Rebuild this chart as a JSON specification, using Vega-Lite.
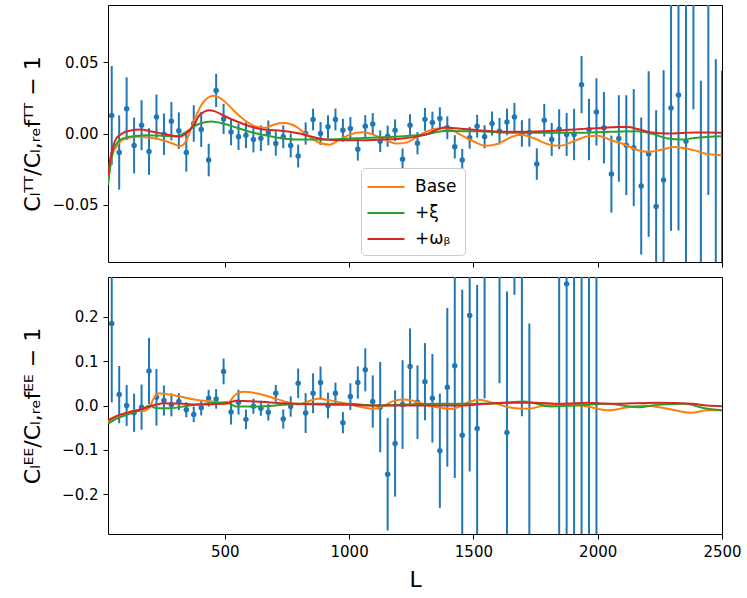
{
  "$schema": "https://vega.github.io/schema/vega-lite/v6.json",
  "padding": {"left": 20, "top": 4, "right": 5, "bottom": 0},
  "spacing": 8,
  "datasets": {
    "tt": [
      {"L": 45, "v": 0.0126, "e": 0.0346}, {"L": 75, "v": -0.0133, "e": 0.026}, {"L": 105, "v": 0.0174, "e": 0.022},
      {"L": 135, "v": -0.0084, "e": 0.0195}, {"L": 165, "v": 0.0058, "e": 0.0175}, {"L": 195, "v": -0.0126, "e": 0.0163},
      {"L": 225, "v": 0.0116, "e": 0.0157}, {"L": 255, "v": -0.0005, "e": 0.0145}, {"L": 285, "v": 0.0086, "e": 0.0134},
      {"L": 315, "v": 0.002, "e": 0.0128}, {"L": 345, "v": -0.0133, "e": 0.0134}, {"L": 375, "v": 0.007, "e": 0.0128},
      {"L": 405, "v": 0.0028, "e": 0.0122}, {"L": 435, "v": -0.0186, "e": 0.0114}, {"L": 465, "v": 0.0302, "e": 0.0116},
      {"L": 495, "v": 0.0102, "e": 0.0105}, {"L": 525, "v": 0.001, "e": 0.0093}, {"L": 555, "v": -0.0023, "e": 0.0093},
      {"L": 585, "v": -0.0012, "e": 0.009}, {"L": 615, "v": -0.0042, "e": 0.009}, {"L": 645, "v": -0.0033, "e": 0.009},
      {"L": 675, "v": 0.0004, "e": 0.0087}, {"L": 705, "v": -0.007, "e": 0.0085}, {"L": 735, "v": -0.0023, "e": 0.008},
      {"L": 765, "v": -0.0084, "e": 0.0084}, {"L": 795, "v": -0.0158, "e": 0.008}, {"L": 825, "v": 0.0, "e": 0.0078},
      {"L": 855, "v": 0.0098, "e": 0.0076}, {"L": 885, "v": 0.0, "e": 0.008}, {"L": 915, "v": 0.0047, "e": 0.008},
      {"L": 945, "v": 0.0098, "e": 0.0077}, {"L": 975, "v": 0.0023, "e": 0.008}, {"L": 1005, "v": 0.0035, "e": 0.008},
      {"L": 1035, "v": -0.011, "e": 0.008}, {"L": 1065, "v": 0.0051, "e": 0.0078}, {"L": 1095, "v": 0.0067, "e": 0.0076},
      {"L": 1125, "v": -0.0054, "e": 0.0076}, {"L": 1155, "v": -0.0019, "e": 0.0074}, {"L": 1185, "v": 0.0023, "e": 0.0076},
      {"L": 1215, "v": -0.0181, "e": 0.0076}, {"L": 1245, "v": 0.0058, "e": 0.0077}, {"L": 1275, "v": -0.0068, "e": 0.0078},
      {"L": 1305, "v": 0.0099, "e": 0.008}, {"L": 1335, "v": 0.0077, "e": 0.0076}, {"L": 1365, "v": 0.0105, "e": 0.0079},
      {"L": 1395, "v": 0.004, "e": 0.008}, {"L": 1425, "v": -0.0093, "e": 0.0081}, {"L": 1455, "v": -0.0186, "e": 0.0078},
      {"L": 1485, "v": -0.003, "e": 0.0076}, {"L": 1515, "v": 0.0051, "e": 0.008}, {"L": 1545, "v": -0.0023, "e": 0.0081},
      {"L": 1575, "v": 0.007, "e": 0.0084}, {"L": 1605, "v": 0.0016, "e": 0.0093}, {"L": 1635, "v": 0.0081, "e": 0.0093},
      {"L": 1665, "v": 0.0116, "e": 0.0098}, {"L": 1695, "v": 0.0, "e": 0.0093}, {"L": 1725, "v": 0.0007, "e": 0.0099},
      {"L": 1755, "v": -0.0214, "e": 0.011}, {"L": 1785, "v": 0.0093, "e": 0.0114}, {"L": 1815, "v": -0.0042, "e": 0.0116},
      {"L": 1845, "v": 0.003, "e": 0.014}, {"L": 1875, "v": -0.0007, "e": 0.015}, {"L": 1905, "v": -0.0007, "e": 0.018},
      {"L": 1935, "v": 0.0342, "e": 0.02}, {"L": 1965, "v": 0.0028, "e": 0.0215}, {"L": 1995, "v": 0.0151, "e": 0.0236},
      {"L": 2025, "v": 0.004, "e": 0.025}, {"L": 2055, "v": -0.0284, "e": 0.027}, {"L": 2085, "v": -0.0035, "e": 0.0303},
      {"L": 2115, "v": -0.0082, "e": 0.035}, {"L": 2145, "v": -0.0099, "e": 0.041}, {"L": 2175, "v": -0.0368, "e": 0.048},
      {"L": 2205, "v": -0.0144, "e": 0.058}, {"L": 2235, "v": -0.0512, "e": 0.0675}, {"L": 2265, "v": -0.0326, "e": 0.077},
      {"L": 2295, "v": 0.0179, "e": 0.086}, {"L": 2325, "v": 0.027, "e": 0.095}, {"L": 2355, "v": -0.0054, "e": 0.106},
      {"L": 2385, "v": 0.135, "e": 0.118}, {"L": 2415, "v": -0.1, "e": 0.137}, {"L": 2445, "v": 0.102, "e": 0.145},
      {"L": 2475, "v": -0.108, "e": 0.16}, {"L": 2500, "v": -0.132, "e": 0.176}
    ],
    "ee": [
      {"L": 45, "v": 0.185, "e": 0.178}, {"L": 75, "v": 0.0246, "e": 0.0645}, {"L": 105, "v": 0.0, "e": 0.046},
      {"L": 135, "v": -0.0164, "e": 0.043}, {"L": 165, "v": -0.0037, "e": 0.051}, {"L": 195, "v": 0.078, "e": 0.0746},
      {"L": 225, "v": 0.0186, "e": 0.064}, {"L": 255, "v": 0.0112, "e": 0.034}, {"L": 285, "v": 0.0015, "e": 0.026},
      {"L": 315, "v": 0.0089, "e": 0.019}, {"L": 345, "v": -0.0097, "e": 0.017}, {"L": 375, "v": -0.0201, "e": 0.0175},
      {"L": 405, "v": -0.0052, "e": 0.017}, {"L": 435, "v": 0.0164, "e": 0.019}, {"L": 465, "v": 0.0149, "e": 0.022},
      {"L": 495, "v": 0.0768, "e": 0.029}, {"L": 525, "v": -0.0149, "e": 0.028}, {"L": 555, "v": 0.0075, "e": 0.028},
      {"L": 585, "v": -0.0313, "e": 0.022}, {"L": 615, "v": -0.0015, "e": 0.017}, {"L": 645, "v": -0.006, "e": 0.017},
      {"L": 675, "v": -0.015, "e": 0.019}, {"L": 705, "v": 0.0276, "e": 0.019}, {"L": 735, "v": -0.0305, "e": 0.0216},
      {"L": 765, "v": -0.0022, "e": 0.023}, {"L": 795, "v": 0.05, "e": 0.0335}, {"L": 825, "v": -0.0171, "e": 0.045},
      {"L": 855, "v": 0.0276, "e": 0.045}, {"L": 885, "v": 0.052, "e": 0.036}, {"L": 915, "v": 0.0, "e": 0.029},
      {"L": 945, "v": 0.0276, "e": 0.024}, {"L": 975, "v": -0.0388, "e": 0.024}, {"L": 1005, "v": 0.0201, "e": 0.03},
      {"L": 1035, "v": 0.052, "e": 0.0365}, {"L": 1065, "v": 0.0805, "e": 0.0485}, {"L": 1095, "v": 0.009, "e": 0.059},
      {"L": 1125, "v": -0.0037, "e": 0.102}, {"L": 1155, "v": -0.155, "e": 0.127}, {"L": 1185, "v": -0.0857, "e": 0.12},
      {"L": 1215, "v": 0.0022, "e": 0.1}, {"L": 1245, "v": 0.088, "e": 0.086}, {"L": 1275, "v": 0.0075, "e": 0.083},
      {"L": 1305, "v": 0.0537, "e": 0.087}, {"L": 1335, "v": 0.0164, "e": 0.1}, {"L": 1365, "v": -0.102, "e": 0.129},
      {"L": 1395, "v": 0.041, "e": 0.179}, {"L": 1425, "v": 0.0895, "e": 0.253}, {"L": 1455, "v": -0.067, "e": 0.328},
      {"L": 1485, "v": 0.203, "e": 0.352}, {"L": 1515, "v": -0.052, "e": 0.324}, {"L": 1545, "v": 0.376, "e": 0.36},
      {"L": 1605, "v": 0.43, "e": 0.38}, {"L": 1635, "v": -0.061, "e": 0.318}, {"L": 1665, "v": 0.65, "e": 0.4},
      {"L": 1695, "v": 0.4, "e": 0.424}, {"L": 1725, "v": -0.32, "e": 0.505}, {"L": 1845, "v": -0.35, "e": 0.7},
      {"L": 1875, "v": 0.2745, "e": 0.6}, {"L": 1905, "v": 0.4, "e": 0.75}, {"L": 1935, "v": -0.45, "e": 0.8},
      {"L": 1965, "v": 0.5, "e": 0.85}, {"L": 1995, "v": -0.4, "e": 0.9}
    ],
    "ttm": [
      {"m": "Base", "L": 30, "v": -0.034}, {"m": "Base", "L": 40, "v": -0.022}, {"m": "Base", "L": 50, "v": -0.014},
      {"m": "Base", "L": 65, "v": -0.009}, {"m": "Base", "L": 80, "v": -0.0055}, {"m": "Base", "L": 100, "v": -0.0035},
      {"m": "Base", "L": 120, "v": -0.0027}, {"m": "Base", "L": 150, "v": -0.0023}, {"m": "Base", "L": 200, "v": -0.003},
      {"m": "Base", "L": 250, "v": -0.0047}, {"m": "Base", "L": 290, "v": -0.007}, {"m": "Base", "L": 318, "v": -0.0089},
      {"m": "Base", "L": 335, "v": -0.0075}, {"m": "Base", "L": 350, "v": -0.003}, {"m": "Base", "L": 372, "v": 0.007},
      {"m": "Base", "L": 405, "v": 0.0198}, {"m": "Base", "L": 438, "v": 0.0256}, {"m": "Base", "L": 459, "v": 0.0265},
      {"m": "Base", "L": 492, "v": 0.0235}, {"m": "Base", "L": 520, "v": 0.019}, {"m": "Base", "L": 546, "v": 0.0144},
      {"m": "Base", "L": 575, "v": 0.01}, {"m": "Base", "L": 600, "v": 0.007}, {"m": "Base", "L": 630, "v": 0.0045},
      {"m": "Base", "L": 660, "v": 0.004}, {"m": "Base", "L": 690, "v": 0.0058}, {"m": "Base", "L": 720, "v": 0.0072},
      {"m": "Base", "L": 740, "v": 0.0074}, {"m": "Base", "L": 765, "v": 0.0065}, {"m": "Base", "L": 790, "v": 0.0045},
      {"m": "Base", "L": 815, "v": 0.001}, {"m": "Base", "L": 841, "v": -0.0023}, {"m": "Base", "L": 880, "v": -0.0065},
      {"m": "Base", "L": 920, "v": -0.0078}, {"m": "Base", "L": 960, "v": -0.0045}, {"m": "Base", "L": 1000, "v": -0.001},
      {"m": "Base", "L": 1030, "v": 0.0005}, {"m": "Base", "L": 1055, "v": 0.0008}, {"m": "Base", "L": 1090, "v": -0.0003},
      {"m": "Base", "L": 1120, "v": -0.0025}, {"m": "Base", "L": 1150, "v": -0.0048}, {"m": "Base", "L": 1190, "v": -0.007},
      {"m": "Base", "L": 1230, "v": -0.0064}, {"m": "Base", "L": 1270, "v": -0.0025}, {"m": "Base", "L": 1310, "v": 0.0012},
      {"m": "Base", "L": 1357, "v": 0.0035}, {"m": "Base", "L": 1397, "v": 0.0035}, {"m": "Base", "L": 1430, "v": 0.001},
      {"m": "Base", "L": 1451, "v": -0.0012}, {"m": "Base", "L": 1504, "v": -0.0058}, {"m": "Base", "L": 1551, "v": -0.0086},
      {"m": "Base", "L": 1599, "v": -0.0072}, {"m": "Base", "L": 1652, "v": -0.0025}, {"m": "Base", "L": 1692, "v": -0.0008},
      {"m": "Base", "L": 1746, "v": -0.0035}, {"m": "Base", "L": 1800, "v": -0.0075}, {"m": "Base", "L": 1846, "v": -0.0086},
      {"m": "Base", "L": 1907, "v": -0.0052}, {"m": "Base", "L": 1961, "v": -0.0019}, {"m": "Base", "L": 2001, "v": -0.0016},
      {"m": "Base", "L": 2054, "v": -0.0047}, {"m": "Base", "L": 2108, "v": -0.0077}, {"m": "Base", "L": 2162, "v": -0.0117},
      {"m": "Base", "L": 2210, "v": -0.0128}, {"m": "Base", "L": 2260, "v": -0.0112}, {"m": "Base", "L": 2310, "v": -0.0095},
      {"m": "Base", "L": 2349, "v": -0.0103}, {"m": "Base", "L": 2390, "v": -0.0118}, {"m": "Base", "L": 2430, "v": -0.014},
      {"m": "Base", "L": 2470, "v": -0.0148}, {"m": "Base", "L": 2500, "v": -0.0152},
      {"m": "+ξ", "L": 30, "v": -0.036}, {"m": "+ξ", "L": 40, "v": -0.022}, {"m": "+ξ", "L": 50, "v": -0.0117},
      {"m": "+ξ", "L": 65, "v": -0.007}, {"m": "+ξ", "L": 77, "v": -0.0047}, {"m": "+ξ", "L": 100, "v": -0.003},
      {"m": "+ξ", "L": 117, "v": -0.0023}, {"m": "+ξ", "L": 150, "v": -0.0015}, {"m": "+ξ", "L": 184, "v": -0.0012},
      {"m": "+ξ", "L": 251, "v": -0.0016}, {"m": "+ξ", "L": 305, "v": -0.0019}, {"m": "+ξ", "L": 345, "v": 0.0012},
      {"m": "+ξ", "L": 385, "v": 0.0058}, {"m": "+ξ", "L": 425, "v": 0.0081}, {"m": "+ξ", "L": 445, "v": 0.0084},
      {"m": "+ξ", "L": 492, "v": 0.007}, {"m": "+ξ", "L": 546, "v": 0.0042}, {"m": "+ξ", "L": 600, "v": 0.0012},
      {"m": "+ξ", "L": 650, "v": -0.0008}, {"m": "+ξ", "L": 707, "v": -0.0028}, {"m": "+ξ", "L": 787, "v": -0.0042},
      {"m": "+ξ", "L": 895, "v": -0.0042}, {"m": "+ξ", "L": 1002, "v": -0.0035}, {"m": "+ξ", "L": 1109, "v": -0.0028},
      {"m": "+ξ", "L": 1216, "v": -0.0019}, {"m": "+ξ", "L": 1310, "v": -0.0005}, {"m": "+ξ", "L": 1384, "v": 0.0017},
      {"m": "+ξ", "L": 1518, "v": 0.0016}, {"m": "+ξ", "L": 1652, "v": 0.0005}, {"m": "+ξ", "L": 1786, "v": 0.0005},
      {"m": "+ξ", "L": 1920, "v": 0.0005}, {"m": "+ξ", "L": 2054, "v": 0.0012}, {"m": "+ξ", "L": 2160, "v": 0.0015},
      {"m": "+ξ", "L": 2215, "v": 0.0}, {"m": "+ξ", "L": 2282, "v": -0.0035}, {"m": "+ξ", "L": 2336, "v": -0.0042},
      {"m": "+ξ", "L": 2390, "v": -0.0031}, {"m": "+ξ", "L": 2450, "v": -0.0022}, {"m": "+ξ", "L": 2500, "v": -0.0019},
      {"m": "+ωᵦ", "L": 30, "v": -0.029}, {"m": "+ωᵦ", "L": 40, "v": -0.017}, {"m": "+ωᵦ", "L": 50, "v": -0.0093},
      {"m": "+ωᵦ", "L": 65, "v": -0.003}, {"m": "+ωᵦ", "L": 77, "v": -0.0012}, {"m": "+ωᵦ", "L": 100, "v": 0.0012},
      {"m": "+ωᵦ", "L": 117, "v": 0.0019}, {"m": "+ωᵦ", "L": 157, "v": 0.0028}, {"m": "+ωᵦ", "L": 211, "v": 0.0012},
      {"m": "+ωᵦ", "L": 264, "v": -0.0007}, {"m": "+ωᵦ", "L": 318, "v": -0.0023}, {"m": "+ωᵦ", "L": 340, "v": -0.0005},
      {"m": "+ωᵦ", "L": 358, "v": 0.0023}, {"m": "+ωᵦ", "L": 378, "v": 0.007}, {"m": "+ωᵦ", "L": 398, "v": 0.0128},
      {"m": "+ωᵦ", "L": 420, "v": 0.0155}, {"m": "+ωᵦ", "L": 438, "v": 0.0163}, {"m": "+ωᵦ", "L": 460, "v": 0.0155},
      {"m": "+ωᵦ", "L": 492, "v": 0.0128}, {"m": "+ωᵦ", "L": 546, "v": 0.0086}, {"m": "+ωᵦ", "L": 600, "v": 0.0051},
      {"m": "+ωᵦ", "L": 653, "v": 0.0028}, {"m": "+ωᵦ", "L": 707, "v": 0.0023}, {"m": "+ωᵦ", "L": 761, "v": 0.0012},
      {"m": "+ωᵦ", "L": 800, "v": 0.0}, {"m": "+ωᵦ", "L": 841, "v": -0.0019}, {"m": "+ωᵦ", "L": 895, "v": -0.004},
      {"m": "+ωᵦ", "L": 975, "v": -0.0047}, {"m": "+ωᵦ", "L": 1055, "v": -0.0047}, {"m": "+ωᵦ", "L": 1136, "v": -0.0042},
      {"m": "+ωᵦ", "L": 1216, "v": -0.0035}, {"m": "+ωᵦ", "L": 1270, "v": -0.0022}, {"m": "+ωᵦ", "L": 1310, "v": -0.0007},
      {"m": "+ωᵦ", "L": 1384, "v": 0.0042}, {"m": "+ωᵦ", "L": 1450, "v": 0.0033}, {"m": "+ωᵦ", "L": 1518, "v": 0.0023},
      {"m": "+ωᵦ", "L": 1652, "v": 0.0012}, {"m": "+ωᵦ", "L": 1786, "v": 0.0016}, {"m": "+ωᵦ", "L": 1920, "v": 0.003},
      {"m": "+ωᵦ", "L": 2014, "v": 0.0039}, {"m": "+ωᵦ", "L": 2080, "v": 0.0046}, {"m": "+ωᵦ", "L": 2121, "v": 0.0046},
      {"m": "+ωᵦ", "L": 2160, "v": 0.0032}, {"m": "+ωᵦ", "L": 2215, "v": 0.0007}, {"m": "+ωᵦ", "L": 2282, "v": 0.0},
      {"m": "+ωᵦ", "L": 2390, "v": 0.0007}, {"m": "+ωᵦ", "L": 2500, "v": 0.0006}
    ],
    "eem": [
      {"m": "Base", "L": 30, "v": -0.037}, {"m": "Base", "L": 63, "v": -0.026}, {"m": "Base", "L": 103, "v": -0.017},
      {"m": "Base", "L": 144, "v": -0.011}, {"m": "Base", "L": 171, "v": -0.013}, {"m": "Base", "L": 190, "v": -0.008},
      {"m": "Base", "L": 200, "v": -0.002}, {"m": "Base", "L": 210, "v": 0.012}, {"m": "Base", "L": 222, "v": 0.022},
      {"m": "Base", "L": 237, "v": 0.0276}, {"m": "Base", "L": 260, "v": 0.026}, {"m": "Base", "L": 305, "v": 0.022},
      {"m": "Base", "L": 385, "v": 0.0127}, {"m": "Base", "L": 465, "v": 0.0075}, {"m": "Base", "L": 506, "v": 0.0037},
      {"m": "Base", "L": 519, "v": 0.0075}, {"m": "Base", "L": 532, "v": 0.018}, {"m": "Base", "L": 546, "v": 0.026},
      {"m": "Base", "L": 573, "v": 0.031}, {"m": "Base", "L": 626, "v": 0.0276}, {"m": "Base", "L": 707, "v": 0.015},
      {"m": "Base", "L": 760, "v": 0.006}, {"m": "Base", "L": 794, "v": 0.0025}, {"m": "Base", "L": 827, "v": 0.0075},
      {"m": "Base", "L": 875, "v": 0.015}, {"m": "Base", "L": 928, "v": 0.011}, {"m": "Base", "L": 995, "v": 0.0037},
      {"m": "Base", "L": 1049, "v": -0.0037}, {"m": "Base", "L": 1096, "v": -0.0075}, {"m": "Base", "L": 1142, "v": 0.0},
      {"m": "Base", "L": 1183, "v": 0.011}, {"m": "Base", "L": 1223, "v": 0.0134}, {"m": "Base", "L": 1277, "v": 0.0075},
      {"m": "Base", "L": 1330, "v": -0.0015}, {"m": "Base", "L": 1384, "v": -0.006}, {"m": "Base", "L": 1418, "v": -0.0075},
      {"m": "Base", "L": 1451, "v": 0.0}, {"m": "Base", "L": 1491, "v": 0.0097}, {"m": "Base", "L": 1525, "v": 0.0127},
      {"m": "Base", "L": 1572, "v": 0.007}, {"m": "Base", "L": 1600, "v": 0.003}, {"m": "Base", "L": 1639, "v": -0.0037},
      {"m": "Base", "L": 1719, "v": -0.0075}, {"m": "Base", "L": 1786, "v": 0.0}, {"m": "Base", "L": 1867, "v": 0.0022},
      {"m": "Base", "L": 1961, "v": -0.0022}, {"m": "Base", "L": 2041, "v": -0.011}, {"m": "Base", "L": 2108, "v": -0.0052},
      {"m": "Base", "L": 2188, "v": 0.0}, {"m": "Base", "L": 2282, "v": -0.0075}, {"m": "Base", "L": 2376, "v": -0.0164},
      {"m": "Base", "L": 2443, "v": -0.011}, {"m": "Base", "L": 2500, "v": -0.011},
      {"m": "+ξ", "L": 30, "v": -0.041}, {"m": "+ξ", "L": 63, "v": -0.03}, {"m": "+ξ", "L": 117, "v": -0.019},
      {"m": "+ξ", "L": 171, "v": -0.0075}, {"m": "+ξ", "L": 197, "v": 0.0}, {"m": "+ξ", "L": 224, "v": -0.006},
      {"m": "+ξ", "L": 278, "v": -0.006}, {"m": "+ξ", "L": 358, "v": 0.0}, {"m": "+ξ", "L": 439, "v": 0.0052},
      {"m": "+ξ", "L": 506, "v": 0.0075}, {"m": "+ξ", "L": 520, "v": 0.004}, {"m": "+ξ", "L": 546, "v": -0.0022},
      {"m": "+ξ", "L": 626, "v": -0.0022}, {"m": "+ξ", "L": 734, "v": 0.0015}, {"m": "+ξ", "L": 787, "v": 0.0037},
      {"m": "+ξ", "L": 900, "v": 0.0037}, {"m": "+ξ", "L": 1000, "v": 0.0037}, {"m": "+ξ", "L": 1100, "v": 0.0},
      {"m": "+ξ", "L": 1230, "v": 0.0022}, {"m": "+ξ", "L": 1350, "v": 0.0037}, {"m": "+ξ", "L": 1500, "v": 0.0037},
      {"m": "+ξ", "L": 1600, "v": 0.005}, {"m": "+ξ", "L": 1705, "v": 0.009}, {"m": "+ξ", "L": 1813, "v": -0.0022},
      {"m": "+ξ", "L": 1907, "v": 0.0}, {"m": "+ξ", "L": 2041, "v": 0.0037}, {"m": "+ξ", "L": 2162, "v": -0.0037},
      {"m": "+ξ", "L": 2242, "v": 0.0015}, {"m": "+ξ", "L": 2349, "v": 0.0037}, {"m": "+ξ", "L": 2430, "v": -0.006},
      {"m": "+ξ", "L": 2500, "v": -0.011},
      {"m": "+ωᵦ", "L": 30, "v": -0.0335}, {"m": "+ωᵦ", "L": 63, "v": -0.024}, {"m": "+ωᵦ", "L": 117, "v": -0.015},
      {"m": "+ωᵦ", "L": 171, "v": -0.0075}, {"m": "+ωᵦ", "L": 211, "v": 0.0}, {"m": "+ωᵦ", "L": 251, "v": 0.0052},
      {"m": "+ωᵦ", "L": 332, "v": 0.0037}, {"m": "+ωᵦ", "L": 412, "v": 0.0022}, {"m": "+ωᵦ", "L": 492, "v": 0.0037},
      {"m": "+ωᵦ", "L": 520, "v": 0.007}, {"m": "+ωᵦ", "L": 546, "v": 0.011}, {"m": "+ωᵦ", "L": 626, "v": 0.009},
      {"m": "+ωᵦ", "L": 734, "v": 0.0052}, {"m": "+ωᵦ", "L": 787, "v": 0.0037}, {"m": "+ωᵦ", "L": 900, "v": 0.0022},
      {"m": "+ωᵦ", "L": 1000, "v": 0.0015}, {"m": "+ωᵦ", "L": 1100, "v": 0.0}, {"m": "+ωᵦ", "L": 1300, "v": 0.0},
      {"m": "+ωᵦ", "L": 1450, "v": 0.0}, {"m": "+ωᵦ", "L": 1550, "v": 0.0037}, {"m": "+ωᵦ", "L": 1620, "v": 0.006},
      {"m": "+ωᵦ", "L": 1750, "v": 0.006}, {"m": "+ωᵦ", "L": 1850, "v": 0.0037}, {"m": "+ωᵦ", "L": 1960, "v": 0.006},
      {"m": "+ωᵦ", "L": 2050, "v": 0.0037}, {"m": "+ωᵦ", "L": 2242, "v": 0.006}, {"m": "+ωᵦ", "L": 2380, "v": 0.0037},
      {"m": "+ωᵦ", "L": 2440, "v": 0.0}, {"m": "+ωᵦ", "L": 2500, "v": -0.0015}
    ]
  },
  "vconcat": [
    {
      "width": 614,
      "height": 257,
      "layer": [
        {
          "data": {"name": "tt"},
          "mark": {"type": "errorbar", "color": "#1f77b4", "thickness": 2, "rule": {"strokeWidth": 2, "clip": true}},
          "encoding": {
            "x": {"field": "L", "type": "quantitative", "scale": {"domain": [30, 2500], "nice": false, "zero": false},
              "axis": {"values": [500, 1000, 1500, 2000, 2500], "labels": false, "title": null}},
            "y": {"field": "v", "type": "quantitative", "scale": {"domain": [-0.09, 0.09], "nice": false, "zero": false},
              "axis": {"values": [-0.05, 0, 0.05], "format": ".2f", "title": "Cₗᵀᵀ/Cₗ,ᵣₑfᵀᵀ − 1", "titleX": -64, "titleY": 128.5}},
            "yError": {"field": "e"}
          }
        },
        {
          "data": {"name": "tt"},
          "mark": {"type": "point", "filled": true, "size": 30, "opacity": 1, "color": "#1f77b4", "clip": true},
          "encoding": {
            "x": {"field": "L", "type": "quantitative"},
            "y": {"field": "v", "type": "quantitative", "title": "Cₗᵀᵀ/Cₗ,ᵣₑfᵀᵀ − 1"}
          }
        },
        {
          "data": {"name": "ttm"},
          "mark": {"type": "line", "strokeWidth": 2, "interpolate": "monotone", "clip": true},
          "encoding": {
            "x": {"field": "L", "type": "quantitative"},
            "y": {"field": "v", "type": "quantitative", "title": "Cₗᵀᵀ/Cₗ,ᵣₑfᵀᵀ − 1"},
            "color": {"field": "m", "type": "nominal",
              "scale": {"domain": ["Base", "+ξ", "+ωᵦ"], "range": ["#ff7f0e", "#2ca02c", "#d62728"]},
              "legend": {"orient": "none", "legendX": 253, "legendY": 163, "title": null,
                "symbolType": "M-1.85,0H1.85", "symbolSize": 400, "symbolStrokeWidth": 2,
                "symbolOffset": 6, "labelOffset": 18, "rowPadding": 7, "padding": 8,
                "labelFontSize": 17, "fillColor": "white", "strokeColor": "#cccccc", "cornerRadius": 4}}
          }
        },
        {
          "mark": {"type": "rule", "color": "black", "strokeWidth": 2.5},
          "encoding": {"y": {"datum": 0}}
        }
      ]
    },
    {
      "width": 614,
      "height": 257,
      "layer": [
        {
          "data": {"name": "ee"},
          "mark": {"type": "errorbar", "color": "#1f77b4", "thickness": 2, "rule": {"strokeWidth": 2, "clip": true}},
          "encoding": {
            "x": {"field": "L", "type": "quantitative", "scale": {"domain": [30, 2500], "nice": false, "zero": false},
              "axis": {"values": [500, 1000, 1500, 2000, 2500], "format": "d", "labelFlush": false, "title": "L", "titlePadding": 10}},
            "y": {"field": "v", "type": "quantitative", "scale": {"domain": [-0.29, 0.29], "nice": false, "zero": false},
              "axis": {"values": [-0.2, -0.1, 0, 0.1, 0.2], "format": ".1f", "title": "Cₗᴱᴱ/Cₗ,ᵣₑfᴱᴱ − 1", "titleX": -64, "titleY": 128.5}},
            "yError": {"field": "e"}
          }
        },
        {
          "data": {"name": "ee"},
          "mark": {"type": "point", "filled": true, "size": 30, "opacity": 1, "color": "#1f77b4", "clip": true},
          "encoding": {
            "x": {"field": "L", "type": "quantitative", "title": "L"},
            "y": {"field": "v", "type": "quantitative", "title": "Cₗᴱᴱ/Cₗ,ᵣₑfᴱᴱ − 1"}
          }
        },
        {
          "data": {"name": "eem"},
          "mark": {"type": "line", "strokeWidth": 2, "interpolate": "monotone", "clip": true},
          "encoding": {
            "x": {"field": "L", "type": "quantitative", "title": "L"},
            "y": {"field": "v", "type": "quantitative", "title": "Cₗᴱᴱ/Cₗ,ᵣₑfᴱᴱ − 1"},
            "color": {"field": "m", "type": "nominal",
              "scale": {"domain": ["Base", "+ξ", "+ωᵦ"], "range": ["#ff7f0e", "#2ca02c", "#d62728"]},
              "legend": null}
          }
        },
        {
          "mark": {"type": "rule", "color": "black", "strokeWidth": 2.5},
          "encoding": {"y": {"datum": 0}}
        }
      ]
    }
  ],
  "resolve": {"scale": {"color": "independent"}, "legend": {"color": "independent"}},
  "config": {
    "font": "DejaVu Sans",
    "background": "white",
    "view": {"stroke": "black", "strokeWidth": 1},
    "axis": {
      "grid": false, "domain": false, "tickColor": "black", "tickSize": 5, "tickWidth": 1,
      "labelFontSize": 15, "labelColor": "black", "labelPadding": 5,
      "titleFontSize": 22, "titleFontWeight": "normal", "titleColor": "black"
    },
    "legend": {"labelColor": "black"}
  }
}
